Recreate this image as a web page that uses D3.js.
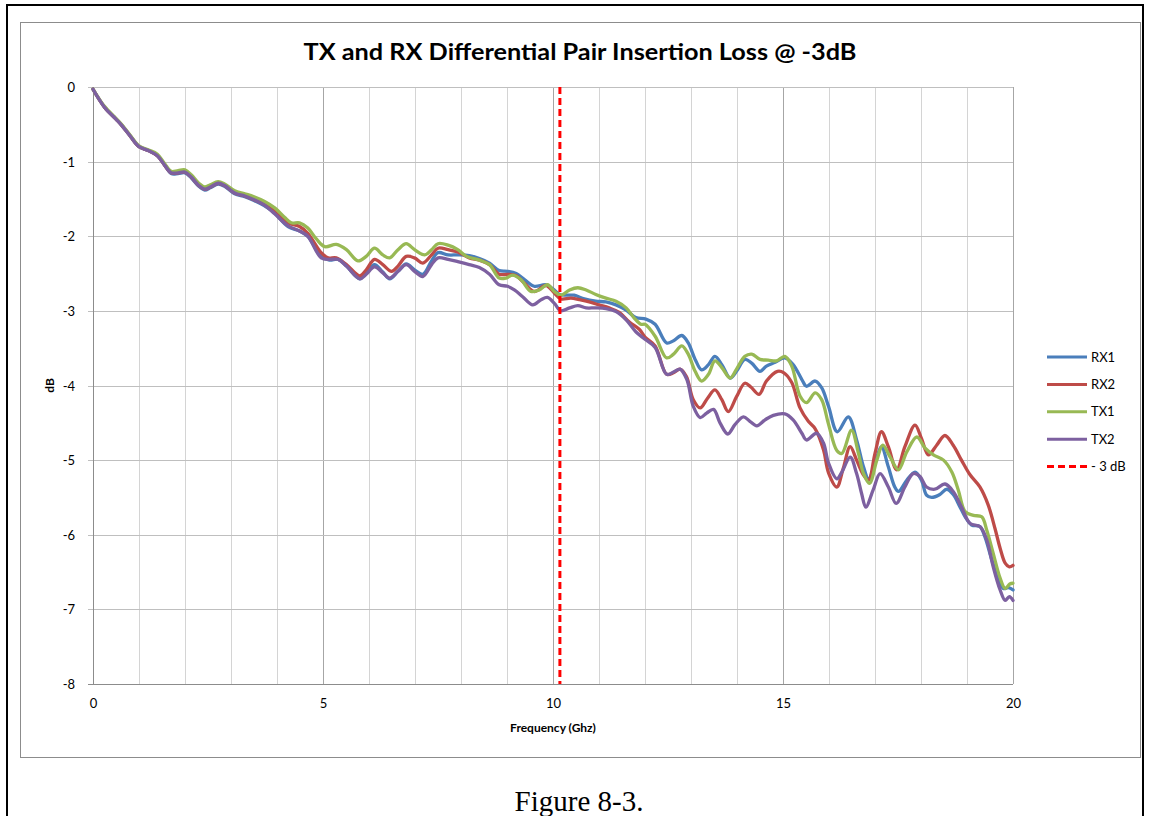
<!DOCTYPE html>
<html>
<head>
<meta charset="utf-8">
<script src="https://cdn.jsdelivr.net/npm/d3@7"></script>
<style>
    html, body { margin: 0; padding: 0; background: #fff; }
    #chart { width: 1149px; height: 816px; }
    svg text { font-family: Lato, 'Open Sans', sans-serif; fill: #000; }
</style>
</head>
<body>
<div id="chart"></div>
<script>
// values: [frequency GHz, insertion loss dB]
const rx1 = [[0,-0.03],[0.25,-0.27],[0.5,-0.43],[0.62,-0.51],[0.8,-0.65],[1.0,-0.80],[1.2,-0.85],[1.4,-0.92],[1.56,-1.05],[1.7,-1.16],[1.85,-1.16],[2.0,-1.15],[2.14,-1.22],[2.3,-1.33],[2.43,-1.38],[2.55,-1.35],[2.72,-1.30],[2.86,-1.33],[3.08,-1.43],[3.3,-1.47],[3.5,-1.52],[3.72,-1.59],[3.95,-1.69],[4.24,-1.87],[4.49,-1.93],[4.67,-2.00],[4.96,-2.27],[5.14,-2.32],[5.33,-2.31],[5.51,-2.40],[5.8,-2.57],[5.94,-2.49],[6.12,-2.38],[6.3,-2.48],[6.45,-2.57],[6.63,-2.47],[6.81,-2.37],[6.99,-2.45],[7.17,-2.51],[7.36,-2.33],[7.5,-2.22],[7.72,-2.25],[7.93,-2.25],[8.18,-2.26],[8.4,-2.30],[8.62,-2.36],[8.83,-2.46],[9.01,-2.47],[9.2,-2.50],[9.38,-2.58],[9.59,-2.67],[9.85,-2.65],[10.03,-2.72],[10.14,-2.78],[10.28,-2.79],[10.46,-2.79],[10.68,-2.84],[10.93,-2.87],[11.15,-2.88],[11.37,-2.92],[11.59,-2.99],[11.8,-3.09],[12.02,-3.11],[12.22,-3.18],[12.47,-3.43],[12.62,-3.40],[12.8,-3.33],[12.94,-3.43],[13.09,-3.65],[13.23,-3.79],[13.38,-3.72],[13.52,-3.61],[13.67,-3.72],[13.85,-3.90],[13.99,-3.81],[14.17,-3.65],[14.32,-3.70],[14.5,-3.81],[14.64,-3.74],[14.83,-3.69],[15.04,-3.63],[15.22,-3.72],[15.41,-3.92],[15.51,-4.01],[15.7,-3.94],[15.84,-4.03],[15.99,-4.28],[16.18,-4.62],[16.42,-4.42],[16.6,-4.73],[16.75,-5.09],[16.86,-5.25],[17.04,-4.96],[17.14,-4.82],[17.29,-5.09],[17.43,-5.36],[17.51,-5.42],[17.69,-5.27],[17.87,-5.16],[18.01,-5.27],[18.12,-5.47],[18.23,-5.50],[18.41,-5.46],[18.56,-5.39],[18.7,-5.46],[18.85,-5.63],[18.96,-5.76],[19.1,-5.87],[19.28,-5.89],[19.39,-6.03],[19.54,-6.34],[19.68,-6.58],[19.79,-6.72],[19.9,-6.71],[20,-6.74]];

const rx2 = [[0,-0.03],[0.25,-0.27],[0.5,-0.43],[0.62,-0.51],[0.8,-0.65],[1.0,-0.80],[1.2,-0.85],[1.4,-0.92],[1.56,-1.05],[1.7,-1.15],[1.85,-1.15],[2.0,-1.14],[2.14,-1.21],[2.3,-1.32],[2.43,-1.37],[2.55,-1.34],[2.72,-1.29],[2.86,-1.32],[3.08,-1.42],[3.3,-1.46],[3.5,-1.51],[3.72,-1.57],[3.95,-1.65],[4.24,-1.82],[4.49,-1.87],[4.67,-1.96],[4.96,-2.22],[5.11,-2.29],[5.29,-2.29],[5.51,-2.38],[5.8,-2.53],[5.94,-2.45],[6.12,-2.31],[6.3,-2.38],[6.49,-2.47],[6.63,-2.40],[6.81,-2.27],[6.99,-2.29],[7.17,-2.36],[7.36,-2.25],[7.5,-2.16],[7.72,-2.18],[7.93,-2.21],[8.18,-2.29],[8.4,-2.32],[8.62,-2.38],[8.83,-2.51],[9.01,-2.51],[9.2,-2.53],[9.38,-2.63],[9.59,-2.74],[9.85,-2.66],[10.03,-2.76],[10.17,-2.84],[10.39,-2.83],[10.57,-2.85],[10.79,-2.88],[11.0,-2.92],[11.22,-2.96],[11.44,-3.02],[11.66,-3.15],[11.88,-3.25],[12.0,-3.35],[12.22,-3.47],[12.47,-3.85],[12.62,-3.83],[12.76,-3.78],[12.9,-3.88],[13.05,-4.19],[13.2,-4.30],[13.36,-4.17],[13.52,-4.06],[13.67,-4.19],[13.81,-4.35],[13.99,-4.15],[14.17,-3.97],[14.3,-4.02],[14.48,-4.12],[14.64,-3.94],[14.88,-3.81],[15.02,-3.83],[15.19,-3.96],[15.37,-4.30],[15.55,-4.48],[15.7,-4.58],[15.88,-4.86],[15.99,-5.17],[16.17,-5.36],[16.31,-5.11],[16.46,-4.82],[16.6,-5.00],[16.75,-5.20],[16.86,-5.27],[17.0,-4.91],[17.14,-4.62],[17.29,-4.82],[17.47,-5.13],[17.65,-4.82],[17.87,-4.53],[18.01,-4.71],[18.16,-4.93],[18.34,-4.80],[18.52,-4.67],[18.7,-4.80],[18.88,-5.00],[19.07,-5.20],[19.28,-5.36],[19.46,-5.60],[19.61,-5.92],[19.72,-6.18],[19.83,-6.38],[19.92,-6.43],[20,-6.41]];

const tx1 = [[0,-0.03],[0.25,-0.26],[0.5,-0.42],[0.62,-0.50],[0.8,-0.64],[1.0,-0.79],[1.2,-0.84],[1.4,-0.90],[1.56,-1.03],[1.7,-1.13],[1.85,-1.12],[2.0,-1.11],[2.14,-1.18],[2.3,-1.29],[2.43,-1.34],[2.55,-1.31],[2.72,-1.27],[2.86,-1.30],[3.08,-1.39],[3.3,-1.43],[3.5,-1.47],[3.72,-1.53],[3.95,-1.62],[4.17,-1.75],[4.31,-1.82],[4.49,-1.82],[4.67,-1.89],[4.86,-2.04],[5.04,-2.14],[5.29,-2.11],[5.51,-2.18],[5.76,-2.33],[5.94,-2.27],[6.12,-2.16],[6.3,-2.25],[6.45,-2.29],[6.63,-2.18],[6.81,-2.10],[6.99,-2.18],[7.21,-2.25],[7.36,-2.18],[7.5,-2.10],[7.72,-2.12],[7.93,-2.18],[8.12,-2.27],[8.4,-2.32],[8.62,-2.38],[8.83,-2.56],[8.98,-2.56],[9.12,-2.52],[9.3,-2.58],[9.52,-2.74],[9.7,-2.72],[9.88,-2.65],[10.03,-2.74],[10.17,-2.79],[10.36,-2.72],[10.54,-2.69],[10.72,-2.72],[10.93,-2.78],[11.15,-2.83],[11.37,-2.87],[11.59,-2.96],[11.77,-3.10],[11.91,-3.18],[12.0,-3.18],[12.22,-3.34],[12.47,-3.63],[12.62,-3.58],[12.8,-3.47],[12.94,-3.58],[13.09,-3.81],[13.23,-3.94],[13.38,-3.85],[13.52,-3.67],[13.67,-3.76],[13.85,-3.90],[13.99,-3.78],[14.17,-3.61],[14.32,-3.58],[14.5,-3.65],[14.68,-3.66],[14.86,-3.67],[15.04,-3.61],[15.19,-3.74],[15.37,-4.14],[15.51,-4.23],[15.7,-4.10],[15.84,-4.19],[15.99,-4.52],[16.17,-4.87],[16.28,-4.91],[16.49,-4.60],[16.64,-4.91],[16.75,-5.18],[16.88,-5.31],[17.04,-5.00],[17.17,-4.80],[17.33,-4.96],[17.51,-5.13],[17.69,-4.89],[17.91,-4.69],[18.09,-4.84],[18.27,-4.93],[18.49,-5.00],[18.67,-5.16],[18.81,-5.40],[18.96,-5.69],[19.14,-5.74],[19.32,-5.76],[19.43,-5.94],[19.57,-6.25],[19.72,-6.58],[19.83,-6.72],[19.93,-6.66],[20,-6.65]];

const tx2 = [[0,-0.03],[0.25,-0.27],[0.5,-0.43],[0.62,-0.51],[0.8,-0.65],[1.0,-0.80],[1.2,-0.85],[1.4,-0.92],[1.56,-1.05],[1.7,-1.15],[1.85,-1.15],[2.0,-1.14],[2.14,-1.21],[2.3,-1.32],[2.43,-1.37],[2.55,-1.34],[2.72,-1.29],[2.86,-1.32],[3.08,-1.42],[3.3,-1.46],[3.5,-1.51],[3.72,-1.58],[3.95,-1.70],[4.24,-1.86],[4.49,-1.93],[4.67,-2.00],[4.96,-2.29],[5.14,-2.31],[5.33,-2.31],[5.51,-2.40],[5.8,-2.57],[5.94,-2.51],[6.12,-2.41],[6.3,-2.49],[6.45,-2.56],[6.63,-2.47],[6.81,-2.38],[6.99,-2.47],[7.17,-2.54],[7.36,-2.38],[7.5,-2.29],[7.72,-2.31],[7.93,-2.34],[8.18,-2.38],[8.4,-2.42],[8.62,-2.51],[8.83,-2.65],[9.01,-2.67],[9.16,-2.72],[9.34,-2.81],[9.56,-2.92],[9.74,-2.85],[9.88,-2.82],[10.03,-2.90],[10.17,-3.00],[10.36,-2.96],[10.54,-2.93],[10.72,-2.96],[10.93,-2.96],[11.15,-2.97],[11.37,-3.01],[11.59,-3.12],[11.8,-3.28],[12.0,-3.38],[12.22,-3.49],[12.47,-3.85],[12.62,-3.82],[12.76,-3.78],[12.91,-3.92],[13.05,-4.28],[13.2,-4.43],[13.34,-4.37],[13.49,-4.32],[13.63,-4.50],[13.8,-4.65],[13.96,-4.52],[14.14,-4.42],[14.28,-4.48],[14.43,-4.54],[14.61,-4.46],[14.79,-4.40],[15.04,-4.38],[15.22,-4.46],[15.41,-4.64],[15.51,-4.73],[15.73,-4.64],[15.88,-4.77],[15.99,-5.04],[16.17,-5.25],[16.28,-5.16],[16.46,-4.96],[16.6,-5.18],[16.71,-5.45],[16.8,-5.63],[16.96,-5.40],[17.11,-5.18],[17.29,-5.36],[17.46,-5.58],[17.65,-5.36],[17.83,-5.18],[17.98,-5.22],[18.12,-5.36],[18.3,-5.39],[18.52,-5.32],[18.7,-5.42],[18.88,-5.63],[19.07,-5.85],[19.28,-5.89],[19.43,-6.07],[19.57,-6.43],[19.72,-6.74],[19.83,-6.88],[19.92,-6.83],[20,-6.88]];

const seriesNames = ['RX1', 'RX2', 'TX1', 'TX2'];
const seriesColors = ['#4a7ebb', '#be4b48', '#98b954', '#7d60a0'];
const xTicks = [0, 5, 10, 15, 20];
const xGridTicks = d3.range(0, 21, 1);
const yTicks = [0, -1, -2, -3, -4, -5, -6, -7, -8];
const cutoffFreq = 10.15;
const cutoffLabel = '- 3 dB';
const chartTitle = 'TX and RX Differential Pair Insertion Loss @ -3dB';
const xTitle = 'Frequency (Ghz)';
const yTitle = 'dB';
const caption = 'Figure 8-3.';

class InsertionLossChart {
    constructor(selector, series) {
        this.series = series;
        this.svg = d3.select(selector)
            .append('svg')
            .attr('width', 1149)
            .attr('height', 816);

        this.x = d3.scaleLinear().domain([0, 20]).range([93, 1013]);
        this.y = d3.scaleLinear().domain([-8, 0]).range([684, 87]);

        this._drawFrame();
        this._drawGrid();
        this._drawAxes();
        this._drawSeries();
        this._drawCutoff();
        this._drawLegend();
    }

    _drawFrame() {
        const svg = this.svg;
        /* page border (table cell) */
        svg.append('path')
            .attr('d', 'M7,816 V5 H1143 V816')
            .attr('fill', 'none')
            .attr('stroke', '#000')
            .attr('stroke-width', 2);

        /* chart area box */
        svg.append('rect')
            .attr('x', 20.5).attr('y', 22.5)
            .attr('width', 1120).attr('height', 735)
            .attr('fill', '#fff')
            .attr('stroke', '#8c8c8c')
            .attr('stroke-width', 1);

        svg.append('text')
            .attr('x', 580).attr('y', 60)
            .attr('text-anchor', 'middle')
            .attr('textLength', 553)
            .attr('lengthAdjust', 'spacingAndGlyphs')
            .style('font-size', '22px')
            .style('font-weight', 'bold')
            .text(chartTitle);

        svg.append('text')
            .attr('x', 579).attr('y', 811)
            .attr('text-anchor', 'middle')
            .style('font-family', "'Liberation Serif', 'Times New Roman', serif")
            .style('font-size', '29px')
            .text(caption);
    }

    _drawGrid() {
        const x = this.x, y = this.y;
        const grid = this.svg.append('g').attr('class', 'grid');

        grid.selectAll('.vgrid')
            .data(xGridTicks.filter((d) => d > 0))
            .enter().append('line')
            .attr('class', 'vgrid')
            .attr('x1', (d) => Math.round(x(d)) + 0.5)
            .attr('x2', (d) => Math.round(x(d)) + 0.5)
            .attr('y1', y(0)).attr('y2', y(-8))
            .attr('stroke', (d) => d % 5 === 0 ? '#a6a6a6' : '#d4d4d4')
            .attr('stroke-width', 1);

        grid.selectAll('.hgrid')
            .data(yTicks)
            .enter().append('line')
            .attr('class', 'hgrid')
            .attr('x1', x(0) - 5).attr('x2', x(20))
            .attr('y1', (d) => Math.round(y(d)) + 0.5)
            .attr('y2', (d) => Math.round(y(d)) + 0.5)
            .attr('stroke', (d) => d === -8 ? '#8c8c8c' : '#bfbfbf')
            .attr('stroke-width', 1);
    }

    _drawAxes() {
        const x = this.x, y = this.y;

        this.svg.append('line')
            .attr('x1', Math.round(x(0)) + 0.5).attr('x2', Math.round(x(0)) + 0.5)
            .attr('y1', y(0)).attr('y2', y(-8))
            .attr('stroke', '#8c8c8c');

        const yAxis = this.svg.append('g')
            .attr('transform', `translate(${x(0) - 15},0)`)
            .call(d3.axisLeft(y).tickValues(yTicks).tickFormat((d) => String(d)).tickSize(0));
        yAxis.select('.domain').remove();
        yAxis.selectAll('text')
            .style('font-size', '13px')
            .attr('dy', '0.35em');

        const xAxis = this.svg.append('g')
            .attr('transform', `translate(0,${y(-8) + 12})`)
            .call(d3.axisBottom(x).tickValues(xTicks).tickFormat((d) => String(d)).tickSize(0));
        xAxis.select('.domain').remove();
        xAxis.selectAll('text')
            .style('font-size', '13px');

        this.svg.append('text')
            .attr('x', (x(0) + x(20)) / 2).attr('y', 732)
            .attr('text-anchor', 'middle')
            .style('font-size', '12px')
            .style('font-weight', 'bold')
            .text(xTitle);

        this.svg.append('text')
            .attr('transform', `translate(54,${(y(0) + y(-8)) / 2}) rotate(-90)`)
            .attr('text-anchor', 'middle')
            .style('font-size', '12px')
            .style('font-weight', 'bold')
            .text(yTitle);
    }

    _drawSeries() {
        const line = d3.line()
            .x((d) => this.x(d[0]))
            .y((d) => this.y(d[1]))
            .curve(d3.curveCatmullRom.alpha(0.5));

        this.svg.append('g').attr('class', 'series')
            .selectAll('path')
            .data(this.series)
            .enter().append('path')
            .attr('d', (s) => line(s.values))
            .attr('fill', 'none')
            .attr('stroke', (s) => s.color)
            .attr('stroke-width', 3.3)
            .attr('stroke-linejoin', 'round')
            .attr('stroke-linecap', 'round');
    }

    _drawCutoff() {
        const cx = this.x(cutoffFreq);
        this.svg.append('line')
            .attr('x1', cx).attr('x2', cx)
            .attr('y1', this.y(0)).attr('y2', this.y(-8))
            .attr('stroke', '#ff0000')
            .attr('stroke-width', 3)
            .attr('stroke-dasharray', '7,4');
    }

    _drawLegend() {
        const items = this.series.map((s) => ({ name: s.name, color: s.color, dash: null }))
            .concat([{ name: cutoffLabel, color: '#ff0000', dash: '7,4' }]);

        const legend = this.svg.append('g').attr('class', 'legend')
            .selectAll('g')
            .data(items)
            .enter().append('g')
            .attr('transform', (d, i) => `translate(1047,${357 + i * 27.4})`);

        legend.append('line')
            .attr('x1', 0).attr('x2', 40)
            .attr('stroke', (d) => d.color)
            .attr('stroke-width', 3)
            .attr('stroke-dasharray', (d) => d.dash);

        legend.append('text')
            .attr('x', 44).attr('dy', '0.35em')
            .style('font-size', '13px')
            .text((d) => d.name);
    }
}

const series = [rx1, rx2, tx1, tx2].map((values, i) => ({
    name: seriesNames[i],
    color: seriesColors[i],
    values: values
}));

new InsertionLossChart('#chart', series);
</script>
</body>
</html>
